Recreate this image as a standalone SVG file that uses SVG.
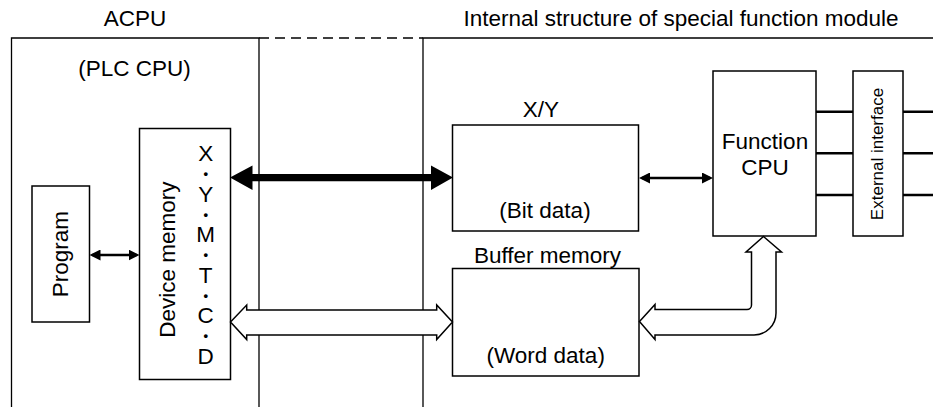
<svg xmlns="http://www.w3.org/2000/svg" width="933" height="407" viewBox="0 0 933 407">
<style>
text{font-family:"Liberation Sans",Arial,sans-serif;font-size:22.5px;fill:#000;text-anchor:middle}
.dot{font-size:13px;font-weight:bold}
.box{fill:#fff;stroke:#000;stroke-width:1.5}
.frame{fill:none;stroke:#000;stroke-width:1.3}
.thin{fill:none;stroke:#000;stroke-width:2.5}
.hollow{fill:#fff;stroke:#000;stroke-width:1.5;stroke-linejoin:miter}
.solid{fill:#000;stroke:none}
</style>
<defs>
<marker id="ah" viewBox="0 0 11 11" refX="8" refY="5.5" markerWidth="11" markerHeight="11" markerUnits="userSpaceOnUse" orient="auto-start-reverse">
<path d="M0,0 L11,5.5 L0,11 Z" fill="#000"/>
</marker>
</defs>
<rect width="933" height="407" fill="#fff"/>

<g id="acpu">
<path class="frame" d="M11.5,407 V38 H259 V407"/>
<text x="135" y="26">ACPU</text>
<text x="134.5" y="75.5">(PLC CPU)</text>
</g>
<g id="module">
<path class="frame" d="M423,407 V38 H933"/>
<text x="681" y="26">Internal structure of special function module</text>
</g>
<g id="link">
<path class="frame" d="M259,38 H423" stroke-dasharray="10,6"/>
</g>

<g id="program">
<rect class="box" x="32" y="186" width="57.5" height="136"/>
<text transform="translate(68.3,254.2) rotate(-90)">Program</text>
</g>

<g id="device-memory">
<rect class="box" x="139.5" y="128.5" width="91" height="251"/>
<text transform="translate(175,259.7) rotate(-90)">Device memory</text>
<text x="205.7" y="161">X</text>
<text class="dot" x="205.7" y="178">•</text>
<text x="205.7" y="201.5">Y</text>
<text class="dot" x="205.7" y="218.5">•</text>
<text x="205.7" y="242">M</text>
<text class="dot" x="205.7" y="259">•</text>
<text x="205.7" y="282.5">T</text>
<text class="dot" x="205.7" y="299.5">•</text>
<text x="205.7" y="323">C</text>
<text class="dot" x="205.7" y="340">•</text>
<text x="205.7" y="363.5">D</text>
</g>

<g id="xy">
<rect class="box" x="452.5" y="125" width="186" height="106"/>
<text x="541" y="116.5">X/Y</text>
<text x="545" y="218">(Bit data)</text>
</g>

<g id="buffer-memory">
<rect class="box" x="452.5" y="268.5" width="186.5" height="107.5"/>
<text x="547.5" y="263">Buffer memory</text>
<text x="545.7" y="363">(Word data)</text>
</g>

<g id="function-cpu">
<rect class="box" x="713" y="71" width="103" height="165"/>
<text x="765" y="149">Function</text>
<text x="765" y="175">CPU</text>
</g>

<g id="external-interface">
<rect class="box" x="853" y="71" width="50" height="165"/>
<text transform="translate(883,154) rotate(-90)" style="font-size:17px">External interface</text>
</g>

<g id="connectors">
<path class="thin" d="M92.5,255 H136.5" marker-start="url(#ah)" marker-end="url(#ah)"/>
<path class="thin" d="M642,178 H710" marker-start="url(#ah)" marker-end="url(#ah)"/>
<path class="thin" d="M816,111.7 H853 M816,153.3 H853 M816,195 H853 M903,111.7 H933 M903,153.3 H933 M903,195 H933"/>
<path class="solid" d="M230,177.5 L252.5,165.5 L252.5,174 L431,174 L431,165.5 L453,177.5 L431,190 L431,181.3 L252.5,181.3 L252.5,190 Z"/>
<path class="hollow" d="M230.5,322 L246.7,305 L246.7,310 L436.7,310 L436.7,305 L452.5,322 L436.7,339.5 L436.7,335 L246.7,335 L246.7,339.5 Z"/>
<path class="hollow" d="M763.5,236.5 L781.5,252 L776,252 L776,313 A22,22 0 0 1 754,335 L655,335 L655,339.5 L639.5,321.5 L655,304.5 L655,309.5 L747,309.5 A4.5,4.5 0 0 0 751.5,305 L751.5,252 L746,252 Z"/>
</g>
</svg>
